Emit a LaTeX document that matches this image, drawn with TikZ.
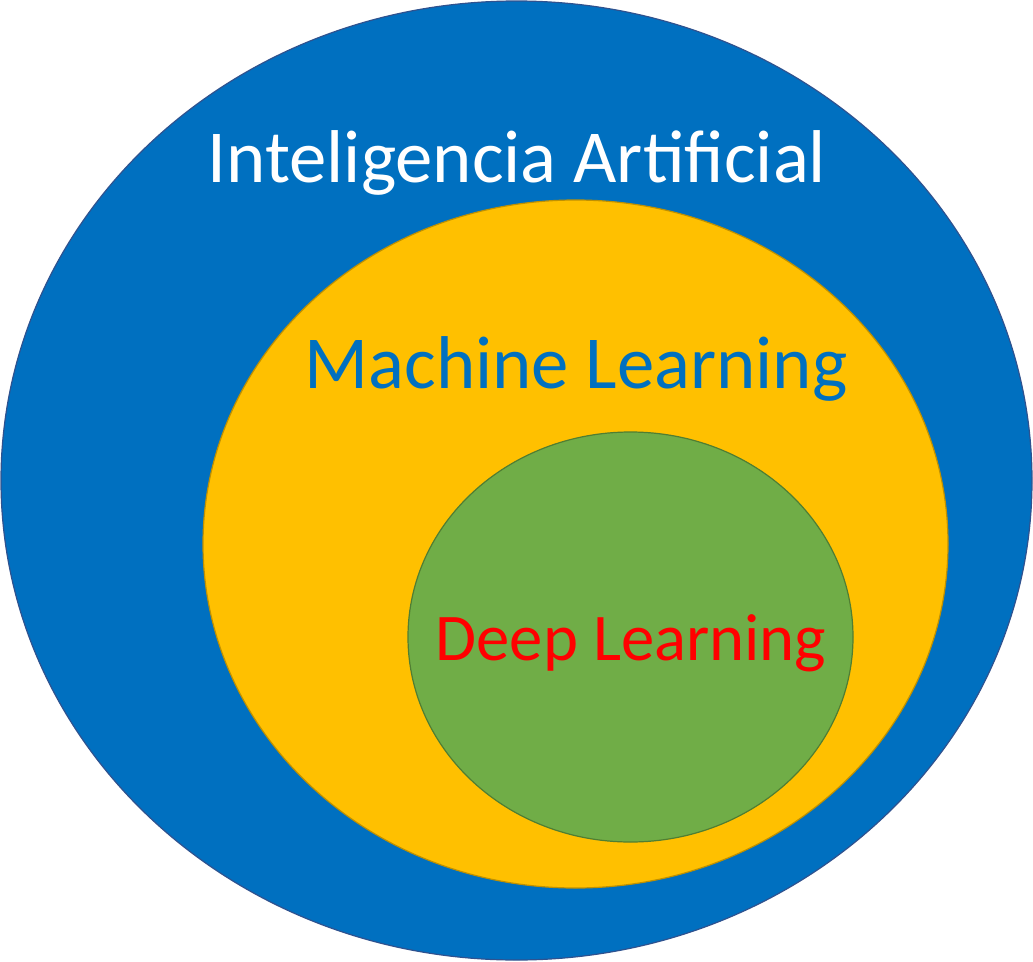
\documentclass[tikz,border=0pt]{standalone}
\usepackage{fontspec}
\setmainfont{Carlito}
\usepackage{tikz}

\definecolor{iablue}{HTML}{0070C0}
\definecolor{iaedge}{HTML}{2F528F}
\definecolor{mlyellow}{HTML}{FFC000}
\definecolor{mledge}{HTML}{BF9000}
\definecolor{dlgreen}{HTML}{70AD47}
\definecolor{dledge}{HTML}{507E32}
\definecolor{dlred}{HTML}{FF0000}

\begin{document}
\begin{tikzpicture}[x=1pt,y=-1pt]
\tikzstyle{every node}+=[inner sep=0pt, anchor=base]
\tikzstyle{label}=[font=\fontsize{74.8}{80}\selectfont]
\useasboundingbox (0,0) rectangle (1033,961);
% circles
\draw [iaedge, fill=iablue, line width=1.2pt] (516.5,480.5) ellipse (515.5 and 479.5);
\draw [mledge, fill=mlyellow, line width=1.2pt] (575.5,544) ellipse (372.5 and 344);
\draw [dledge, fill=dlgreen, line width=1.2pt] (630.5,637) ellipse (222.5 and 205);
% labels
\node [label, white] (ia) at (517,182) {Inteligencia Artificial};
\node [label, iablue] (ml) at (576,388) {Machine Learning};
\node [label, dlred, font=\fontsize{66.7}{70}\selectfont] (dl) at (631,660) {Deep Learning};
\end{tikzpicture}
\end{document}
